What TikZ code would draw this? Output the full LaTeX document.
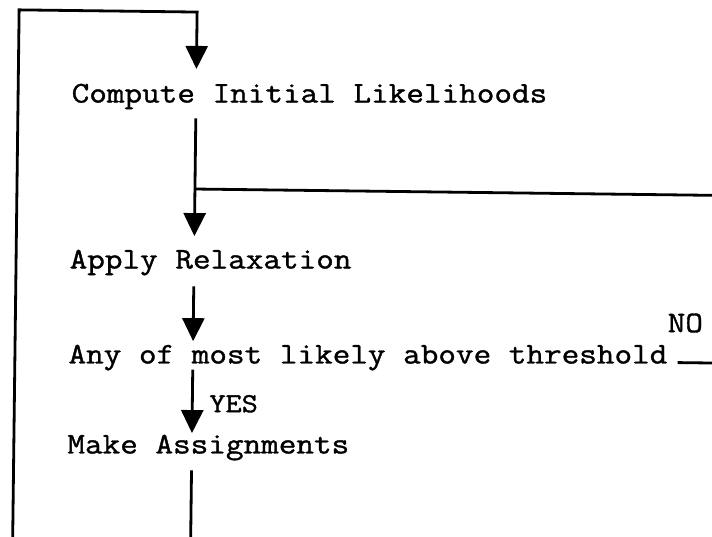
\documentclass[tikz,border=0pt]{standalone}
\usepackage{fontspec}
\usepackage{tikz}
\usetikzlibrary{arrows.meta}
\newfontfamily\tw{Latin Modern Mono}[FakeStretch=1.14,FakeBold=1.2]
\tikzset{
  stp/.style={font=\tw\fontsize{30}{34}\selectfont,inner sep=0pt,text height=18pt,text depth=0pt,anchor=base west},
  lb/.style={font=\tw\fontsize{30}{34}\selectfont,inner sep=0pt},
  lbs/.style={font=\tw\fontsize{27.5}{30}\selectfont,inner sep=0pt,anchor=base west},
  lnk/.style={draw=black,line width=2.8pt},
  flw/.style={lnk,-{Triangle[length=23pt,width=22pt]}},
}
\begin{document}
\begin{tikzpicture}[x=1pt,y=-1pt]
\useasboundingbox (0,0) rectangle (712,537);
\clip (0,0) rectangle (712,537);
% the scanned sheet sits a little askew
\begin{scope}[rotate around={-0.7:(356,268)}]
% ---------------- the steps
\node[stp] (compute) at (69.5,106) {Compute Initial Likelihoods};
\node[stp] (apply) at (69.5,272) {Apply Relaxation};
\node[stp] (test) at (69.5,367) {Any of most likely above threshold};
\node[stp] (assign) at (69.5,457) {Make Assignments};
\node[lb] (no) at (686,319) {NO};
\node[lbs] (yes) at (211,414) {YES};
% ---------------- corners of the two loops (the parts off the page are clipped)
\coordinate (spine) at (194,0);
\coordinate (jn) at (194,191);
\coordinate (rt) at (730,191);
\coordinate (bc) at (194,552);
\coordinate (bl) at (16,552);
\coordinate (tl) at (16,14);
% ---------------- flow
\draw[flw,shorten <=17pt,shorten >=14pt] (assign.south -| spine) -- (bc) -- (bl) -- (tl) -| (compute.north -| spine);
\draw[flw,shorten <=17pt,shorten >=14pt] (compute.south -| spine) -- (apply.north -| spine);
\draw[lnk,shorten <=10pt] ([yshift=1pt]test.base east) -| (rt) -- (jn);
\draw[flw,shorten <=18pt,shorten >=2pt] (apply.south -| spine) -- (test.north -| spine);
\draw[flw,shorten <=8pt,shorten >=2pt] (test.south -| spine) -- (assign.north -| spine);
\end{scope}
\end{tikzpicture}
\end{document}
